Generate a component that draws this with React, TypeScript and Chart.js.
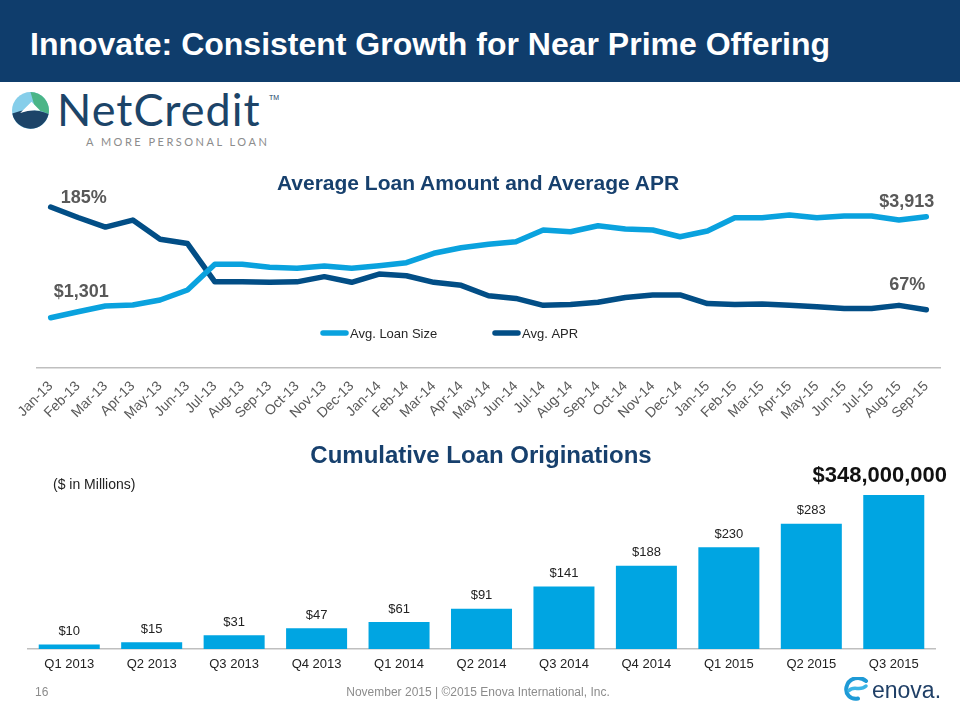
import React, { useEffect, useRef } from "react";
import { Chart, registerables } from "chart.js";

Chart.register(...registerables);

const FONT = "'Liberation Sans', Arial, Helvetica, sans-serif";

// ---------- Line chart data ----------
const months = [
  "Jan-13", "Feb-13", "Mar-13", "Apr-13", "May-13", "Jun-13", "Jul-13", "Aug-13", "Sep-13", "Oct-13", "Nov-13", "Dec-13",
  "Jan-14", "Feb-14", "Mar-14", "Apr-14", "May-14", "Jun-14", "Jul-14", "Aug-14", "Sep-14", "Oct-14", "Nov-14", "Dec-14",
  "Jan-15", "Feb-15", "Mar-15", "Apr-15", "May-15", "Jun-15", "Jul-15", "Aug-15", "Sep-15",
];
const avgLoanSize = [
  1301, 1456, 1603, 1629, 1758, 2017, 2682, 2682, 2604, 2578, 2638, 2578,
  2645, 2723, 2966, 3111, 3199, 3266, 3569, 3525, 3680, 3595, 3569, 3395,
  3543, 3887, 3887, 3957, 3887, 3931, 3931, 3827, 3913,
];
const avgApr = [
  185, 173, 162, 170, 148, 143, 99, 99, 98.5, 99, 105, 98.5,
  108, 106, 98.5, 95, 83, 80, 72, 73, 75.5, 81, 84, 84,
  74, 73, 73.5, 72, 70.5, 68.5, 68.5, 72, 67,
];
const lineSeriesLabels = ["Avg. Loan Size", "Avg. APR"];
const lineColors = ["#0AA2DE", "#024E86"];

// ---------- Bar chart data ----------
const quarters = [
  "Q1 2013", "Q2 2013", "Q3 2013", "Q4 2013", "Q1 2014", "Q2 2014",
  "Q3 2014", "Q4 2014", "Q1 2015", "Q2 2015", "Q3 2015",
];
const cumulativeOriginations = [10, 15, 31, 47, 61, 91, 141, 188, 230, 283, 348];
const totalOriginationsLabel = "$348,000,000";
const barColor = "#00A5E2";

const fmtMoney = (v: number) => "$" + v.toLocaleString("en-US");
const fmtPct = (v: number) => `${v}%`;

const lineAnnotations = {
  id: "lineAnnotations",
  afterDatasetsDraw(chart: any) {
    const { ctx, chartArea } = chart;
    const loan = chart.getDatasetMeta(0).data;
    const apr = chart.getDatasetMeta(1).data;
    const n = loan.length - 1;
    ctx.save();
    ctx.font = `bold 18px ${FONT}`;
    ctx.fillStyle = "#595959";
    ctx.textBaseline = "middle";
    ctx.textAlign = "left";
    ctx.fillText(fmtMoney(avgLoanSize[0]), loan[0].x + 3, loan[0].y - 26);
    ctx.fillText(fmtPct(avgApr[0]), apr[0].x + 10, apr[0].y - 9);
    ctx.textAlign = "right";
    ctx.fillText(fmtMoney(avgLoanSize[n]), loan[n].x + 8, loan[n].y - 15);
    ctx.fillText(fmtPct(avgApr[n]), apr[n].x - 1, apr[n].y - 25);

    // legend inside the plot
    const legendX = [320, 492];
    const y = chartArea.bottom - 35;
    ctx.font = `13px ${FONT}`;
    ctx.textAlign = "left";
    chart.data.datasets.forEach((ds: any, i: number) => {
      const x0 = legendX[i];
      ctx.strokeStyle = ds.borderColor;
      ctx.lineWidth = 5.5;
      ctx.lineCap = "round";
      ctx.beginPath();
      ctx.moveTo(x0 + 3, y);
      ctx.lineTo(x0 + 26, y);
      ctx.stroke();
      ctx.fillStyle = "#262626";
      ctx.fillText(ds.label, x0 + 30, y + 1);
    });
    ctx.restore();
  },
};

const barValueLabels = {
  id: "barValueLabels",
  afterDatasetsDraw(chart: any) {
    const { ctx } = chart;
    const meta = chart.getDatasetMeta(0);
    const last = meta.data.length - 1;
    ctx.save();
    ctx.textAlign = "center";
    ctx.textBaseline = "middle";
    meta.data.forEach((bar: any, i: number) => {
      if (i === last) {
        ctx.font = `bold 22px ${FONT}`;
        ctx.fillStyle = "#111111";
        ctx.fillText(totalOriginationsLabel, bar.x - 14, bar.y - 19);
      } else {
        ctx.font = `13px ${FONT}`;
        ctx.fillStyle = "#222222";
        ctx.fillText(fmtMoney(cumulativeOriginations[i]), bar.x, bar.y - 13);
      }
    });
    ctx.restore();
  },
};

function LineChart() {
  const ref = useRef<HTMLCanvasElement | null>(null);
  useEffect(() => {
    if (!ref.current) return;
    const chart = new Chart(ref.current, {
      type: "line",
      data: {
        labels: months,
        datasets: [
          {
            label: lineSeriesLabels[0],
            data: avgLoanSize,
            yAxisID: "yLoan",
            borderColor: lineColors[0],
            backgroundColor: lineColors[0],
            borderWidth: 5.5,
            pointRadius: 0,
            tension: 0,
            borderCapStyle: "round",
            borderJoinStyle: "round",
            fill: false,
          },
          {
            label: lineSeriesLabels[1],
            data: avgApr,
            yAxisID: "yApr",
            borderColor: lineColors[1],
            backgroundColor: lineColors[1],
            borderWidth: 5.5,
            pointRadius: 0,
            tension: 0,
            borderCapStyle: "round",
            borderJoinStyle: "round",
            fill: false,
          },
        ],
      } as any,
      options: {
        responsive: false,
        animation: false,
        layout: { padding: { left: 37, right: 20, top: 44, bottom: 0 } },
        plugins: {
          legend: { display: false },
          tooltip: { enabled: false },
          title: { display: false },
        },
        scales: {
          x: {
            offset: true,
            grid: { display: false, drawTicks: false },
            border: { display: true, color: "#BFBFBF", width: 1.5 },
            ticks: {
              autoSkip: false,
              minRotation: 45,
              maxRotation: 45,
              padding: 10,
              color: "#595959",
              font: { family: FONT, size: 14 },
            },
            afterFit: (s: any) => {
              s.height = 72;
            },
          },
          yLoan: { display: false, min: 0, max: 4500 },
          yApr: { display: false, min: 0, max: 200 },
        },
      } as any,
      plugins: [lineAnnotations],
    });
    return () => chart.destroy();
  }, []);
  return <canvas ref={ref} width={960} height={290} style={{ width: 960, height: 290, display: "block" }} />;
}

function BarChart() {
  const ref = useRef<HTMLCanvasElement | null>(null);
  useEffect(() => {
    if (!ref.current) return;
    const chart = new Chart(ref.current, {
      type: "bar",
      data: {
        labels: quarters,
        datasets: [
          {
            data: cumulativeOriginations,
            backgroundColor: barColor,
            borderWidth: 0,
            categoryPercentage: 1,
            barPercentage: 0.74,
          },
        ],
      },
      options: {
        responsive: false,
        animation: false,
        layout: { padding: { left: 28, right: 25, top: 32, bottom: 0 } },
        plugins: {
          legend: { display: false },
          tooltip: { enabled: false },
        },
        scales: {
          x: {
            grid: { display: false, drawTicks: false },
            border: { display: true, color: "#BFBFBF", width: 1.5 },
            ticks: {
              autoSkip: false,
              maxRotation: 0,
              padding: 8,
              color: "#222222",
              font: { family: FONT, size: 13 },
            },
            afterFit: (s: any) => {
              s.height = 41;
            },
          },
          y: { display: false, min: 0, max: 400 },
        },
      } as any,
      plugins: [barValueLabels],
    });
    return () => chart.destroy();
  }, []);
  return <canvas ref={ref} width={960} height={250} style={{ width: 960, height: 250, display: "block" }} />;
}

const abs = (left: number, top: number, extra: React.CSSProperties = {}): React.CSSProperties => ({
  position: "absolute",
  left,
  top,
  whiteSpace: "nowrap",
  ...extra,
});

export default function App() {
  return (
    <div
      style={{
        position: "absolute",
        left: 0,
        top: 0,
        width: 960,
        height: 720,
        background: "#ffffff",
        overflow: "hidden",
        fontFamily: FONT,
      }}
    >
      {/* header */}
      <div style={abs(0, 0, { width: 960, height: 82, background: "#0F3D6C" })} />
      <div
        style={abs(30, 28, {
          color: "#ffffff",
          fontWeight: "bold",
          fontSize: 32,
          lineHeight: "32px",
        })}
      >
        Innovate: Consistent Growth for Near Prime Offering
      </div>

      {/* NetCredit logo */}
      <svg style={abs(12, 92)} width={37} height={37} viewBox="0 0 36 36">
        <circle cx={18} cy={18} r={18} fill="#86CEEA" />
        <path d="M18 0 A18 18 0 0 1 35.6 21.5 Q29 18 23 17.5 Z" fill="#4BB587" />
        <path d="M0.3 21 Q18 14 35.6 21.5 A18 18 0 0 1 0.3 21 Z" fill="#1C4468" />
        <path d="M8 20.5 L19 9.5 L27.5 18.2 Q18 16.8 8 20.5 Z" fill="#ffffff" />
      </svg>
      <div
        style={abs(57, 85, {
          fontFamily: "Lato, 'Open Sans', sans-serif",
          fontWeight: 400,
          fontSize: 45,
          lineHeight: "48px",
          color: "#1C4468",
          letterSpacing: 1,
        })}
      >
        NetCredit
      </div>
      <div style={abs(269, 94, { fontSize: 7, color: "#1C4468" })}>TM</div>
      <div
        style={abs(86, 136, {
          fontFamily: "Lato, 'Open Sans', sans-serif",
          fontSize: 11,
          lineHeight: "12px",
          letterSpacing: 2.5,
          color: "#8C8C8C",
        })}
      >
        A MORE PERSONAL LOAN
      </div>

      {/* line chart */}
      <div style={abs(0, 150, { width: 960, height: 290 })}>
        <LineChart />
      </div>
      <div
        style={abs(0, 171.5, {
          width: 956,
          textAlign: "center",
          fontWeight: "bold",
          fontSize: 21,
          lineHeight: "21px",
          color: "#17406D",
        })}
      >
        Average Loan Amount and Average APR
      </div>

      {/* bar chart */}
      <div style={abs(0, 440, { width: 960, height: 250 })}>
        <BarChart />
      </div>
      <div
        style={abs(0, 443, {
          width: 962,
          textAlign: "center",
          fontWeight: "bold",
          fontSize: 24,
          lineHeight: "24px",
          color: "#17406D",
        })}
      >
        Cumulative Loan Originations
      </div>
      <div style={abs(53, 477, { fontSize: 14, lineHeight: "14px", color: "#222222" })}>($ in Millions)</div>

      {/* footer */}
      <div style={abs(35, 686, { fontSize: 12, lineHeight: "12px", color: "#8C8C8C" })}>16</div>
      <div
        style={abs(0, 686, {
          width: 956,
          textAlign: "center",
          fontSize: 12,
          lineHeight: "12px",
          color: "#8C8C8C",
        })}
      >
        November 2015 | ©2015 Enova International, Inc.
      </div>
      <svg style={abs(844, 677)} width={25} height={24} viewBox="0 0 25 24">
        <path d="M22 4 C16 -1, 5 0, 2.5 10 C1 17, 6 23, 14 21.5" fill="none" stroke="#1E9AD6" strokeWidth={4} strokeLinecap="round" />
        <path d="M5 13.5 C10 8, 16 15, 22 9" fill="none" stroke="#3BB5E6" strokeWidth={3.5} strokeLinecap="round" />
      </svg>
      <div style={abs(872, 677, { fontSize: 23, lineHeight: "26px", color: "#1F3F66" })}>enova.</div>
    </div>
  );
}
